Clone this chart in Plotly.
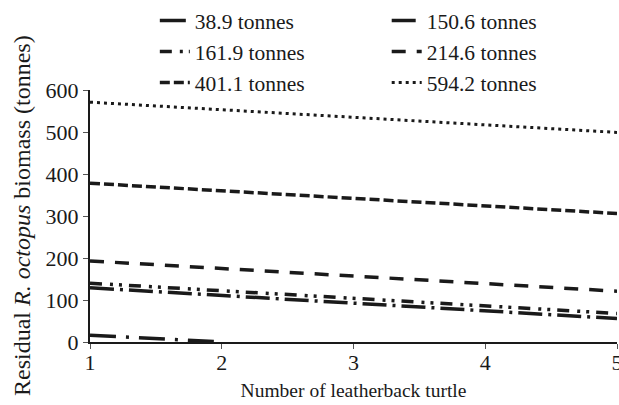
import plotly.graph_objects as go

# Number of leatherback turtles on the x axis
turtles = [1, 2, 3, 4, 5]

# Residual octopus biomass (tonnes) for each starting biomass scenario
labels = ["38.9 tonnes", "150.6 tonnes", "161.9 tonnes",
          "214.6 tonnes", "401.1 tonnes", "594.2 tonnes"]
res_38_9 = [16, 0]
res_150_6 = [129, 111, 93, 75, 56]
res_161_9 = [140, 122, 104, 86, 68]
res_214_6 = [193, 175, 157, 139, 121]
res_401_1 = [378, 360, 342, 324, 306]
res_594_2 = [571, 553, 535, 517, 499]

series = [res_38_9, res_150_6, res_161_9, res_214_6, res_401_1, res_594_2]
dashes = [
    "26px,10px,3px,10px",
    "24px,6px,3px,6px",
    "12px,8px,3px,6px,3px,7px",
    "14px,11px",
    "10px,4px",
    "3px,4px",
]
widths = [3.5, 3.5, 3.5, 3.5, 3.5, 3]
# legend column for each series (two columns, filled row by row)
legend_ids = ["legend", "legend2", "legend", "legend2", "legend", "legend2"]

serif = "Liberation Serif, Times New Roman, serif"

fig = go.Figure()
for name, ys, dash, w, lg in zip(labels, series, dashes, widths, legend_ids):
    fig.add_trace(go.Scatter(
        x=turtles[:len(ys)], y=ys, mode="lines", name=name, legend=lg,
        line=dict(color="#1a1a1a", width=w, dash=dash),
    ))

axis_common = dict(
    showgrid=False, zeroline=False, showline=True, linecolor="#1a1a1a",
    linewidth=2, ticks="outside", ticklen=5, tickwidth=1.2,
    tickcolor="#555", tickfont=dict(family=serif, size=22, color="#1a1a1a"),
    ticklabeloverflow="allow",
)

legend_common = dict(
    orientation="v", yref="container", y=1, xanchor="left", yanchor="top",
    font=dict(family=serif, size=21.5, color="#1a1a1a"),
    bgcolor="rgba(0,0,0,0)", itemwidth=30, tracegroupgap=0,
)

fig.update_layout(
    width=619, height=405,
    margin=dict(l=90, r=2, t=90, b=63, autoexpand=False),
    paper_bgcolor="white", plot_bgcolor="white",
    font=dict(family=serif, color="#1a1a1a"),
    xaxis=dict(range=[1, 5], tickvals=turtles, **axis_common,
               ticklabelstandoff=-5,
               title=dict(text="Number of leatherback turtle",
                          font=dict(family=serif, size=19.5), standoff=9)),
    yaxis=dict(range=[0, 600], tickvals=[0, 100, 200, 300, 400, 500, 600],
               **axis_common),
    legend=dict(x=0.123, **legend_common),
    legend2=dict(x=0.563, **legend_common),
    showlegend=True,
    annotations=[dict(
        text="Residual <i>R. octopus</i> biomass (tonnes)",
        xref="paper", yref="paper", x=-0.129, y=0.5,
        xanchor="center", yanchor="middle", textangle=-90, showarrow=False,
        font=dict(family=serif, size=24, color="#1a1a1a"),
    )],
)

fig.write_html("out.html")
